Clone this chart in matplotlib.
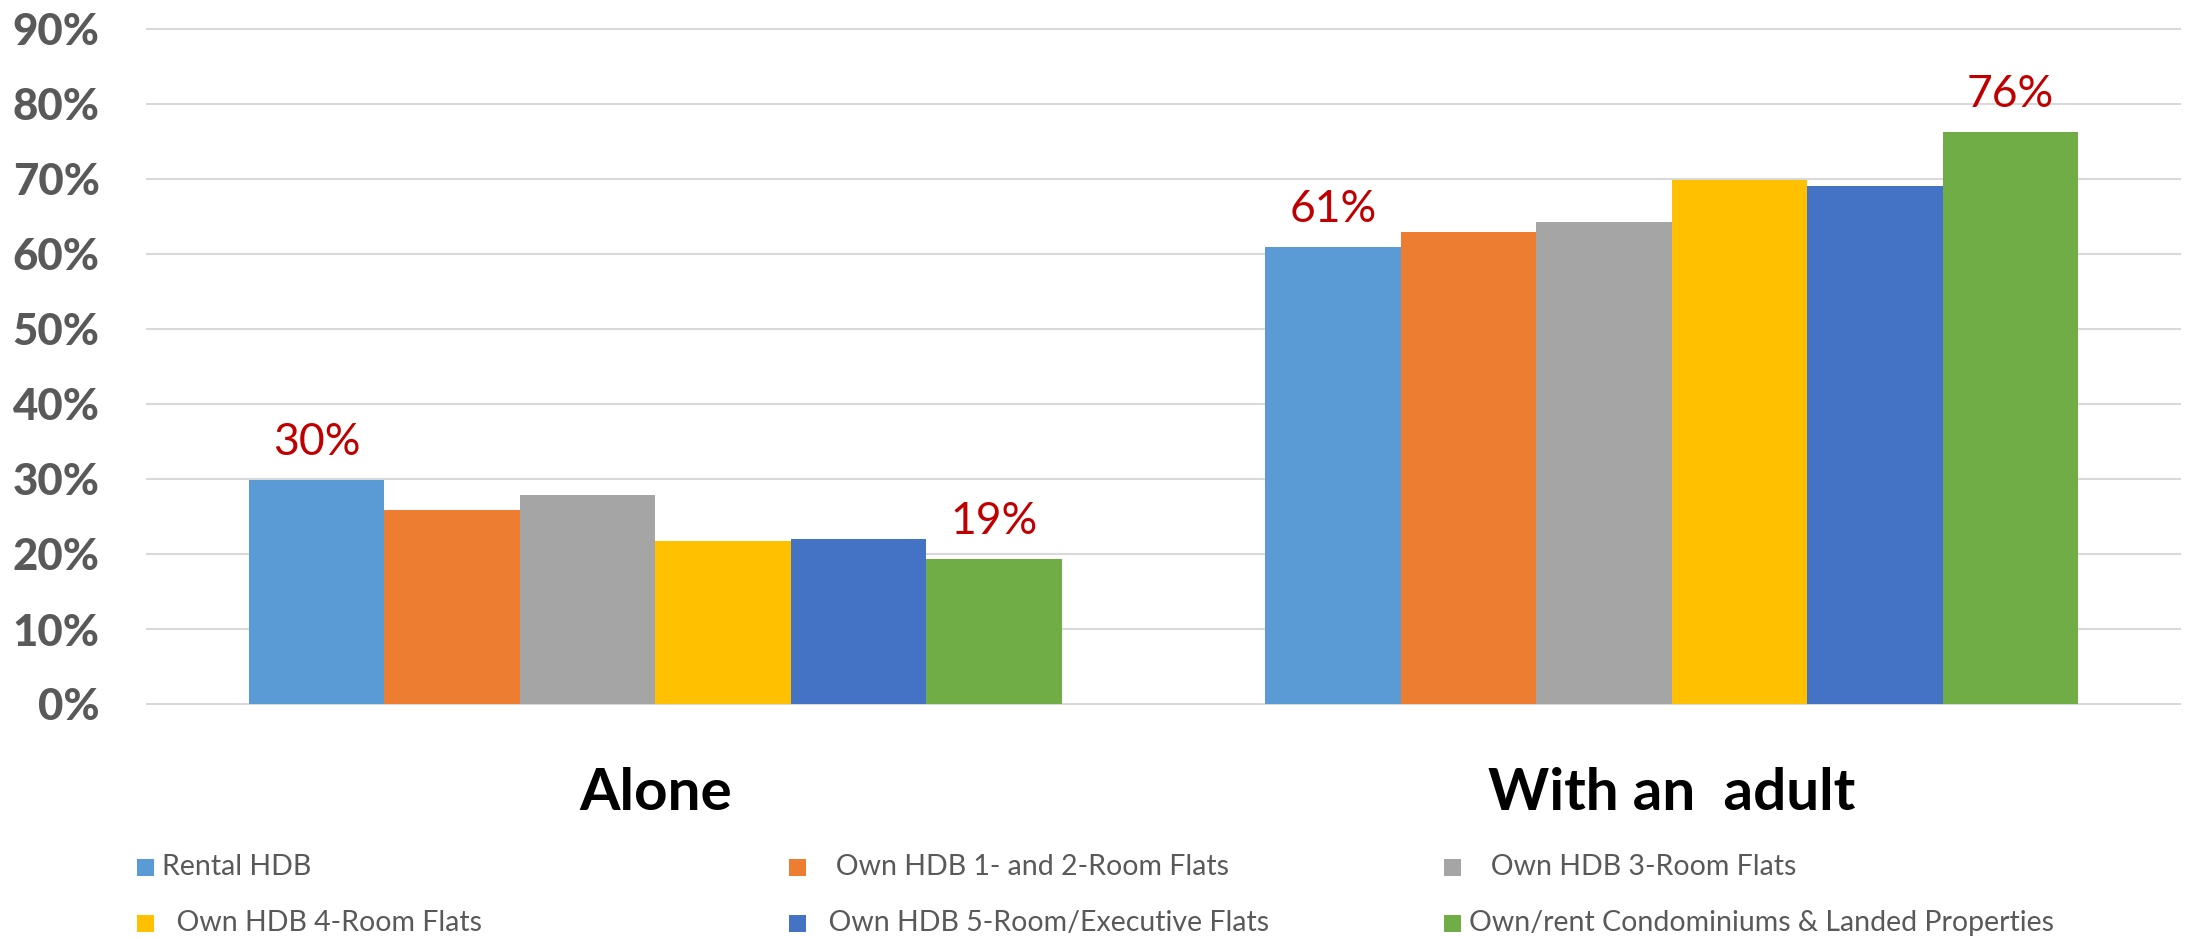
import numpy as np
import matplotlib
matplotlib.use("Agg")
import matplotlib.pyplot as plt
from matplotlib.patches import Rectangle

# survey shares (%) by housing type
categories = ["Alone", "With an  adult"]
housing = ["Rental HDB",
           "   Own HDB 1- and 2-Room Flats",
           "   Own HDB 3-Room Flats",
           "  Own HDB 4-Room Flats",
           "  Own HDB 5-Room/Executive Flats",
           "Own/rent Condominiums & Landed Properties"]
alone = [29.8, 25.9, 27.9, 21.8, 22.0, 19.3]
with_adult = [60.9, 62.9, 64.3, 69.9, 69.1, 76.3]
labelled = [0, 5]   # series that carry a value label

colors = ["#5B9BD5", "#ED7D31", "#A5A5A5", "#FFC000", "#4472C4", "#70AD47"]
FONT = ["Lato", "DejaVu Sans"]
W, H = 2186, 939

fig = plt.figure(figsize=(W / 100, H / 100), dpi=100)
ax = fig.add_axes([147 / W, (H - 704) / H, (2180 - 147) / W, (704 - 29) / H])

vals = np.array([alone, with_adult])          # shape (category, series)
x = np.arange(len(categories))
bw = 0.8 / len(housing)
for i, (name, c) in enumerate(zip(housing, colors)):
    xi = x + (i - (len(housing) - 1) / 2) * bw
    ax.bar(xi, vals[:, i], width=bw, color=c, zorder=3, linewidth=0)
    if i in labelled:
        for xx, v in zip(xi, vals[:, i]):
            ax.annotate(f"{v:.0f}%", (xx, v), xytext=(0, 18), textcoords="offset points",
                        ha="center", va="baseline", color="#C00000",
                        fontsize=32, family=FONT, zorder=4)

ax.set_xlim(-0.5, 1.5)
ax.set_ylim(0, 90)
ax.set_yticks(np.arange(0, 91, 10))
ax.set_yticklabels([f"{t}%" for t in range(0, 91, 10)])
ax.set_xticks(x, categories)
ax.tick_params(axis="y", length=0, pad=34, labelsize=31.5, labelcolor="#595959")
ax.tick_params(axis="x", length=0, pad=45, labelsize=42, labelcolor="black")
for lab in ax.get_yticklabels():
    lab.set_family(FONT)
    lab.set_fontweight("black")
for lab in ax.get_xticklabels():
    lab.set_family(FONT)
    lab.set_fontweight("bold")

ax.grid(axis="y", color="#D9D9D9", linewidth=1.5, zorder=0)
for gl in ax.get_ygridlines():
    gl.set_clip_on(False)
for s in ax.spines.values():
    s.set_visible(False)

# legend laid out in rows of three
col_x = [137, 789, 1444]
row_y = [867, 923]
sq = 17
for i, (name, c) in enumerate(zip(housing, colors)):
    px, py = col_x[i % 3], row_y[i // 3]
    fig.add_artist(Rectangle((px / W, (H - py - sq / 2) / H), sq / W, sq / H,
                             transform=fig.transFigure, color=c, linewidth=0))
    fig.text((px + sq + 8) / W, (H - py) / H, name, ha="left", va="center",
             fontsize=20.5, color="#595959", family=FONT)

fig.savefig("out.png", dpi=100)
